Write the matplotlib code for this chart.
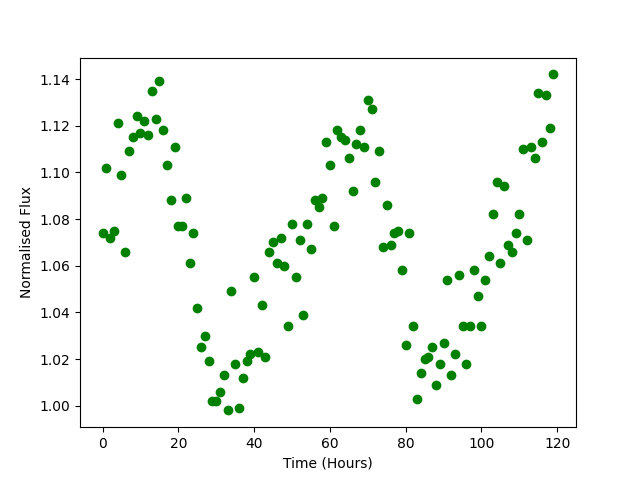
import matplotlib
matplotlib.use("Agg")
import matplotlib.pyplot as plt
import numpy as np

# hourly samples
time_hours = np.arange(120)

flux = [
    1.074, 1.102, 1.072, 1.075, 1.121, 1.099, 1.066, 1.109, 1.115, 1.124,
    1.117, 1.122, 1.116, 1.135, 1.123, 1.139, 1.118, 1.103, 1.088, 1.111,
    1.077, 1.077, 1.089, 1.061, 1.074, 1.042, 1.025, 1.030, 1.019, 1.002,
    1.002, 1.006, 1.013, 0.998, 1.049, 1.018, 0.999, 1.012, 1.019, 1.022,
    1.055, 1.023, 1.043, 1.021, 1.066, 1.070, 1.061, 1.072, 1.060, 1.034,
    1.078, 1.055, 1.071, 1.039, 1.078, 1.067, 1.088, 1.085, 1.089, 1.113,
    1.103, 1.077, 1.118, 1.115, 1.114, 1.106, 1.092, 1.112, 1.118, 1.111,
    1.131, 1.127, 1.096, 1.109, 1.068, 1.086, 1.069, 1.074, 1.075, 1.058,
    1.026, 1.074, 1.034, 1.003, 1.014, 1.020, 1.021, 1.025, 1.009, 1.018,
    1.027, 1.054, 1.013, 1.022, 1.056, 1.034, 1.018, 1.034, 1.058, 1.047,
    1.034, 1.054, 1.064, 1.082, 1.096, 1.061, 1.094, 1.069, 1.066, 1.074,
    1.082, 1.110, 1.071, 1.111, 1.106, 1.134, 1.113, 1.133, 1.119, 1.142,
]

fig, ax = plt.subplots(figsize=(6.4, 4.8), dpi=100)
ax.plot(time_hours, flux, "go")
ax.set_xlabel("Time (Hours)")
ax.set_ylabel("Normalised Flux")

fig.savefig("out.png")
